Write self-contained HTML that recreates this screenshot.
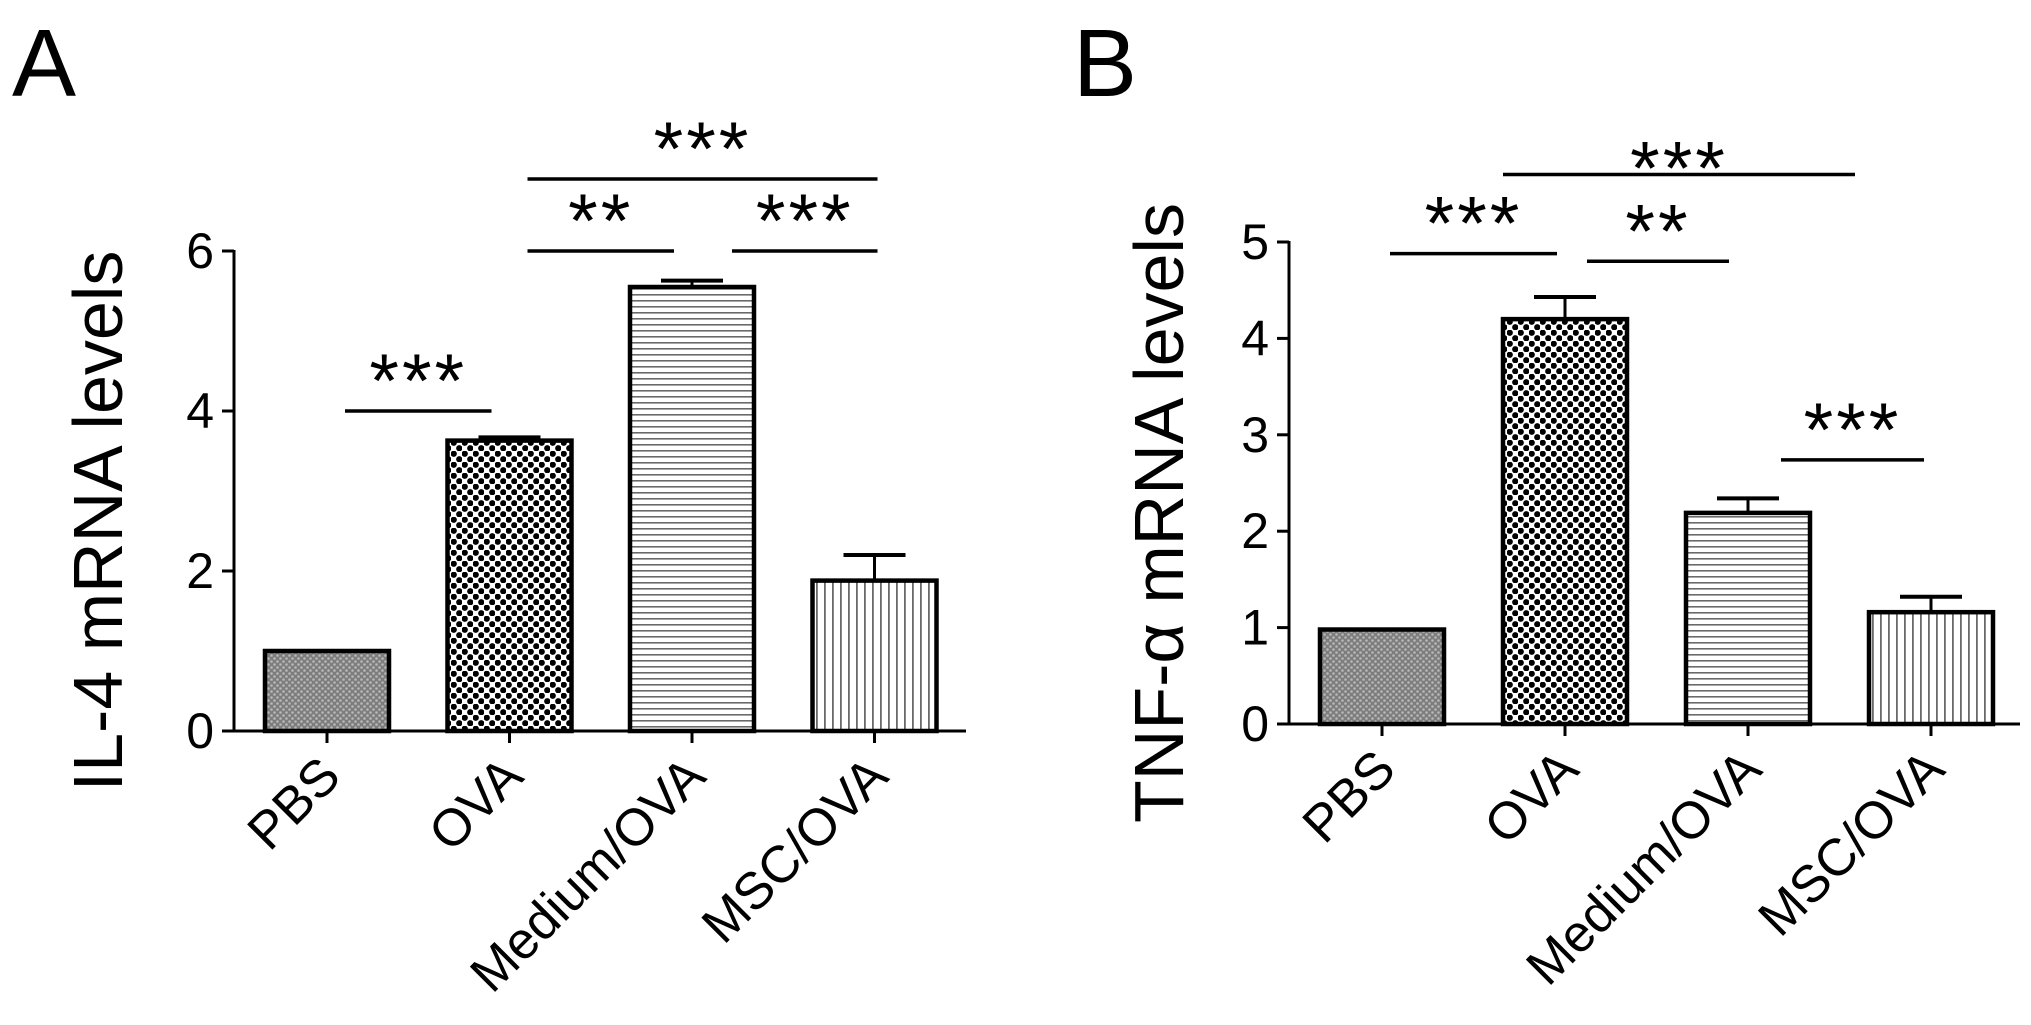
<!DOCTYPE html>
<html><head><meta charset="utf-8"><style>
html,body{margin:0;padding:0;background:#fff;}
svg{display:block;font-family:"Liberation Sans",Arial,sans-serif;}
</style></head><body>
<svg id="fig" width="2031" height="1025" viewBox="0 0 2031 1025">
<defs>
<pattern id="pGrey" width="6" height="6" patternUnits="userSpaceOnUse"><rect width="6" height="6" fill="#7d7d7d"/><circle cx="1.5" cy="1.5" r="1.3" fill="#b8b8b8"/><circle cx="4.5" cy="4.5" r="1.3" fill="#b8b8b8"/></pattern>
<pattern id="pCheck" width="11" height="11" patternUnits="userSpaceOnUse"><rect width="11" height="11" fill="#fff"/><circle cx="2.75" cy="2.75" r="3.1" fill="#000"/><circle cx="8.25" cy="8.25" r="3.1" fill="#000"/></pattern>
<pattern id="pHoriz" width="7" height="6" patternUnits="userSpaceOnUse"><rect width="7" height="6" fill="#fff"/><rect y="0" width="7" height="1.6" fill="#6a6a6a"/></pattern>
<pattern id="pVert" width="8" height="7" patternUnits="userSpaceOnUse"><rect width="8" height="7" fill="#fff"/><rect x="0" width="1.8" height="7" fill="#6a6a6a"/></pattern>
</defs>
<text x="12" y="96" font-size="96">A</text>
<text x="1073" y="96" font-size="96">B</text>
<g id="chartA"></g>
<g id="chartB"></g>
</svg>
<script>
const categories = ["PBS","OVA","Medium/OVA","MSC/OVA"];
const il4Values = [1.0, 3.63, 5.55, 1.88];
const il4Errors = [0, 0.04, 0.08, 0.32];
const il4Ticks = [0,2,4,6];
const tnfValues = [0.98, 4.2, 2.19, 1.16];
const tnfErrors = [0, 0.23, 0.15, 0.16];
const tnfTicks = [0,1,2,3,4,5];
// [from, to, level, label, left offset(px from bar center), right offset, star drop]
const il4Sig = [[0,1,4.0,"***",18,-18,0],[1,2,6.0,"**",18,-18,0],[2,3,6.0,"***",40,3,0],[1,3,6.9,"***",18,3,0]];
const tnfSig = [[0,1,4.88,"***",8,-8,0],[1,2,4.8,"**",22,-19,0],[2,3,2.74,"***",33,-7,0],[1,3,5.7,"***",-62,-76,24]];
const fills = ["url(#pGrey)","url(#pCheck)","url(#pHoriz)","url(#pVert)"];
const NS="http://www.w3.org/2000/svg";
function mk(p,tag,at){const e=document.createElementNS(NS,tag);for(const k in at)e.setAttribute(k,at[k]);p.appendChild(e);return e;}
function draw(g,cfg){
  const y=v=>cfg.y0-(v-0)*(cfg.y0-cfg.yTop)/cfg.ymax;
  const x=i=>cfg.x0+i*cfg.step;
  const ax=mk(g,'line',{x1:cfg.axX,y1:y(cfg.ymax)-1,x2:cfg.axX,y2:cfg.y0+1.5,stroke:'#000','stroke-width':3});
  
  
  const xa=mk(g,'line',{x1:cfg.axX-6,y1:cfg.y0,x2:cfg.xEnd,y2:cfg.y0,stroke:'#000','stroke-width':3});
  
  
  cfg.ticks.forEach(t=>{
    mk(g,'line',{x1:cfg.axX-12,y1:y(t),x2:cfg.axX,y2:y(t),stroke:'#000','stroke-width':3});
    const tl=mk(g,'text',{x:cfg.axX-20,y:y(t)+17,'font-size':50,'text-anchor':'end'});
    tl.textContent=t;
    
    
  });
  const tt=mk(g,'text',{x:0,y:0,'font-size':70,'text-anchor':'middle',transform:`translate(${cfg.titleX},${(cfg.yTop+cfg.y0)/2+30}) rotate(-90)`});
  tt.textContent=cfg.title;
  
  
  const w=124;
  cfg.values.forEach((v,i)=>{
    const cx=x(i);
    if(cfg.errors[i]>0){
      const ey=y(v+cfg.errors[i]);
      mk(g,'line',{x1:cx,y1:y(v),x2:cx,y2:ey,stroke:'#000','stroke-width':3});
      mk(g,'line',{x1:cx-31,y1:ey,x2:cx+31,y2:ey,stroke:'#000','stroke-width':4});
    }
    const r=mk(g,'rect',{x:cx-w/2,y:y(v),width:w,height:cfg.y0-y(v),fill:fills[i],stroke:'#000','stroke-width':4.5});
    
    
    mk(g,'line',{x1:cx,y1:cfg.y0,x2:cx,y2:cfg.y0+12,stroke:'#000','stroke-width':3});
    const lb=mk(g,'text',{x:0,y:0,'font-size':52,'text-anchor':'end',transform:`translate(${cx+16},${cfg.y0+48}) rotate(-45)`});
    lb.textContent=categories[i];
    
    
  });
  cfg.sig.forEach(s=>{
    const ly=y(s[2]);
    const x1=x(s[0])+s[4], x2=x(s[1])+s[5];
    const ln=mk(g,'line',{x1:x1,y1:ly,x2:x2,y2:ly,stroke:'#000','stroke-width':3.5});
    
    
    const st=mk(g,'text',{x:(x1+x2)/2,y:ly-4+s[6],'font-size':76,'text-anchor':'middle','letter-spacing':'3'});
    st.textContent=s[3];
    
    
  });
}
draw(document.getElementById('chartA'),{axX:234,y0:731,yTop:251,ymax:6,x0:327,step:182.5,xEnd:966,ticks:il4Ticks,values:il4Values,errors:il4Errors,sig:il4Sig,title:'IL-4 mRNA levels',titleX:122});
draw(document.getElementById('chartB'),{axX:1289,y0:724,yTop:242,ymax:5,x0:1382,step:183,xEnd:2020,ticks:tnfTicks,values:tnfValues,errors:tnfErrors,sig:tnfSig,title:'TNF-α mRNA levels',titleX:1183});
</script>
</body></html>
